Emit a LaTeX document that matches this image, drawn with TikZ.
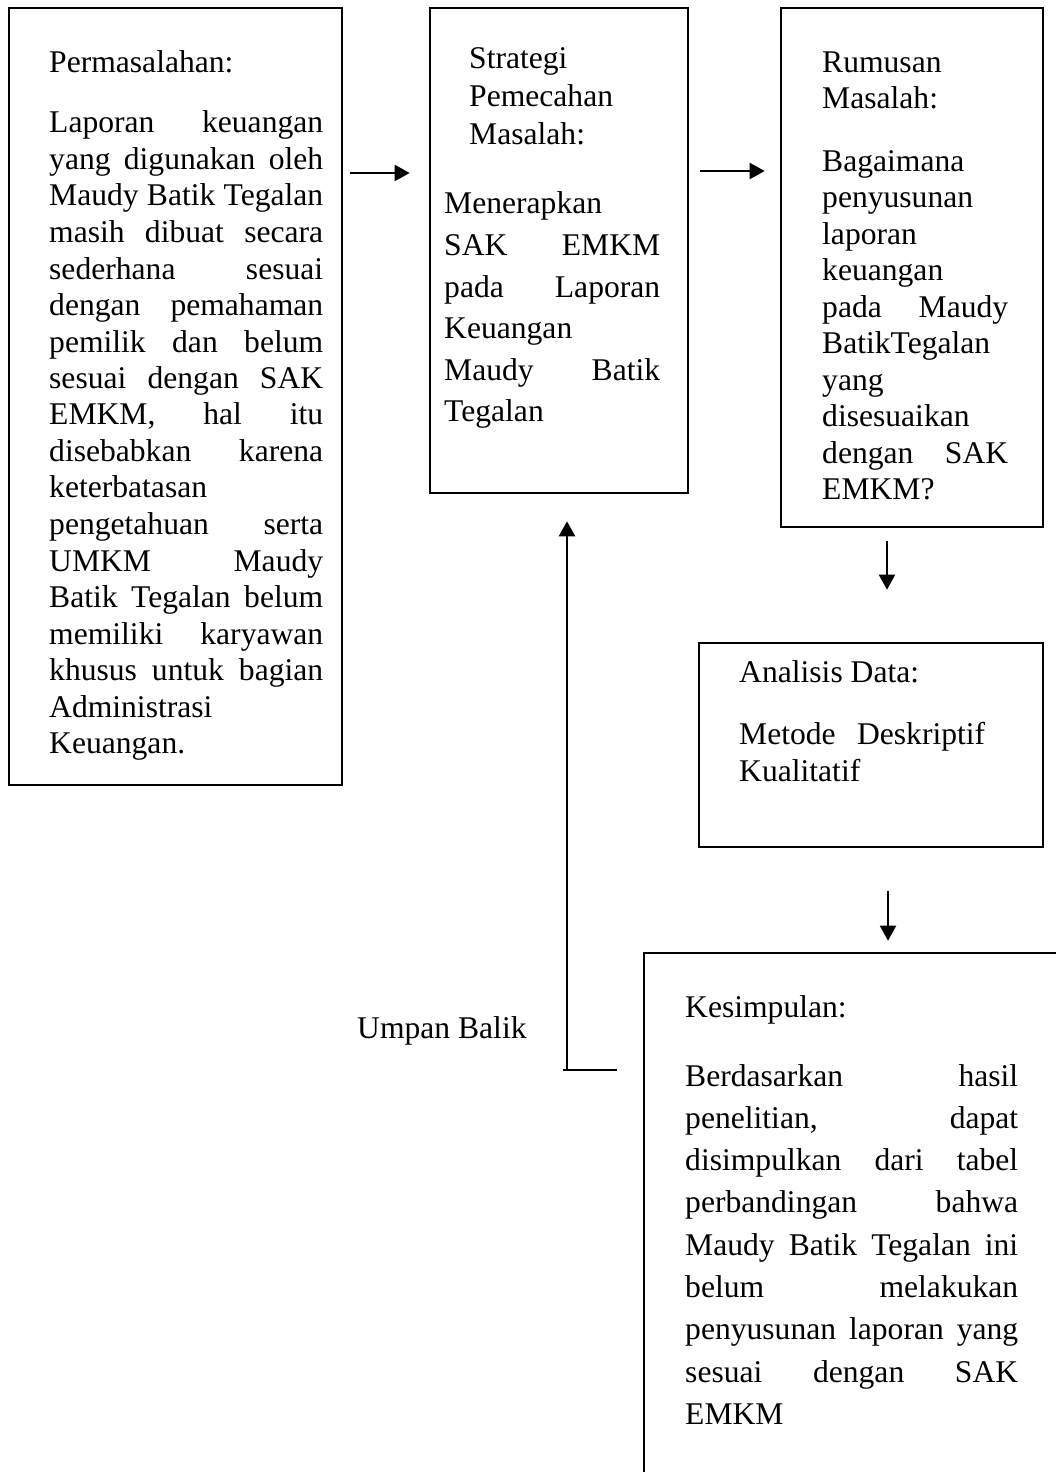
\documentclass[tikz,border=0pt]{standalone}
\usepackage{fontspec}
\setmainfont{Liberation Serif}
\usetikzlibrary{arrows.meta}
\tolerance=10000
\hyphenpenalty=10000

\begin{document}
\begin{tikzpicture}[x=1pt,y=-1pt,
  box/.style={draw,line width=2.6pt,inner sep=0pt},
  txt/.style={anchor=base west,inner sep=0pt,align=justify,
     font={\fontsize{31.6}{36.5}\selectfont}},
  arr/.style={line width=2pt,-{Triangle[length=15pt,width=16pt]}}]
\clip (0,0) rectangle (1056,1472);
\node[box,minimum width=333pt,minimum height=777pt] (prob) at (175.5,396.5) {};
\node[box,minimum width=258pt,minimum height=485pt] (strat) at (559,250.5) {};
\node[box,minimum width=262pt,minimum height=519pt] (rumus) at (912,267.5) {};
\node[box,minimum width=344pt,minimum height=204pt] (anal) at (871,745) {};
\node[box,minimum width=426pt,minimum height=537pt] (simp) at (857,1221.5) {};
\node[txt,text width=274pt] (probtxt) at (49,72) {Permasalahan:\par\vspace{24.5pt}
  Laporan keuangan\linebreak yang digunakan oleh\linebreak Maudy Batik Tegalan\linebreak
  masih dibuat secara\linebreak sederhana sesuai\linebreak dengan pemahaman\linebreak
  pemilik dan belum\linebreak sesuai dengan SAK\linebreak EMKM, hal itu\linebreak
  disebabkan karena\linebreak keterbatasan\linebreak pengetahuan serta\linebreak
  UMKM Maudy\linebreak Batik Tegalan belum\linebreak memiliki karyawan\linebreak
  khusus untuk bagian\linebreak Administrasi\linebreak Keuangan.};
\node[txt,text width=216pt,font={\fontsize{31.6}{41.6}\selectfont}] (strattxt) at (444,69)
  {{\leftskip=25pt\baselineskip=37.5pt Strategi\\ Pemecahan\\ Masalah:\par}\vspace{28.4pt}
  Menerapkan\linebreak SAK EMKM\linebreak pada Laporan\linebreak Keuangan\linebreak
  Maudy Batik\linebreak Tegalan};
\node[txt,text width=186pt] (rumustxt) at (822,72) {Rumusan\\ Masalah:\par\vspace{26.3pt}
  Bagaimana\linebreak penyusunan\linebreak laporan\linebreak keuangan\linebreak
  pada Maudy\linebreak BatikTegalan\linebreak yang\linebreak disesuaikan\linebreak
  dengan SAK\linebreak EMKM?};
\node[txt,text width=246pt,font={\fontsize{31.6}{37}\selectfont}] (analtxt) at (739,682)
  {Analisis Data:\par\vspace{25pt}Metode Deskriptif\linebreak Kualitatif};
\node[txt,text width=333pt,font={\fontsize{31.6}{42.3}\selectfont}] (simptxt) at (685,1017)
  {Kesimpulan:\par\vspace{26.7pt}
  Berdasarkan hasil\linebreak penelitian, dapat\linebreak disimpulkan dari tabel\linebreak
  perbandingan bahwa\linebreak Maudy Batik Tegalan ini\linebreak belum melakukan\linebreak
  penyusunan laporan yang\linebreak sesuai dengan SAK\linebreak EMKM};
\node[anchor=base west,inner sep=0pt,font={\fontsize{31.6}{36.5}\selectfont}] (umpan) at (357,1038) {Umpan Balik};
\coordinate (fb) at (567,1070);
\draw[arr,shorten <=7pt,shorten >=19pt] (prob.east |- 0,173) -- (strat.west |- 0,173);
\draw[arr,shorten <=11pt,shorten >=15pt] (strat.east |- 0,171) -- (rumus.west |- 0,171);
\draw[arr,shorten <=13pt,shorten >=52pt] (rumus.south -| 887,0) -- (anal.north -| 887,0);
\draw[arr,shorten <=43pt,shorten >=11pt] (anal.south -| 888,0) -- (simp.north -| 888,0);
\draw[line width=1.3pt,shorten <=26pt] (simp.west |- fb) -- ([xshift=-4pt]fb);
\draw[arr,line width=2.5pt,shorten >=27pt] (fb) -- (strat.south -| fb);
\end{tikzpicture}
\end{document}
